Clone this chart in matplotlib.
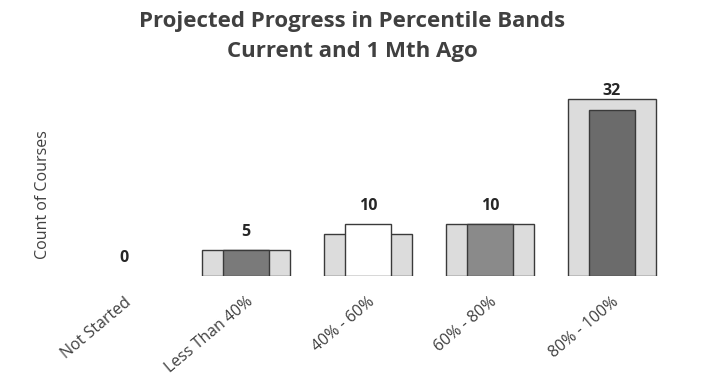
import matplotlib
matplotlib.use("Agg")
import matplotlib.pyplot as plt
import numpy as np

categories = ["Not Started", "Less Than 40%", "40% - 60%", "60% - 80%", "80% - 100%"]
current = [0, 5, 10, 10, 32]
month_ago = [0, 5, 8, 10, 34]
current_colors = ["#7a7a7a", "#7a7a7a", "#ffffff", "#8a8a8a", "#6b6b6b"]

plt.rcParams['font.family'] = ['Open Sans', 'DejaVu Sans']
text_color = "#404040"

fig = plt.figure(figsize=(7.01, 3.89), dpi=100)
ax = fig.add_axes([63/701, 1 - 276/389, 610/701, 187/389])

x = np.arange(len(categories))
lw_ago = [1.0 if v > 0 else 0 for v in month_ago]
lw_cur = [1.0 if v > 0 else 0 for v in current]
ax.bar(x, month_ago, width=0.72, color="#dcdcdc", edgecolor="#3a3a3a", linewidth=lw_ago, zorder=2)
ax.bar(x, current, width=0.37, color=current_colors, edgecolor="#3a3a3a", linewidth=lw_cur, zorder=3)

for xi, v in zip(x, current):
    ax.annotate(str(v), (xi, v), xytext=(0, 7.5), textcoords="offset points",
                ha="center", va="bottom", fontsize=11.5, fontweight="bold", color="#262626")

ax.set_xlim(-0.5, len(categories) - 0.5)
ax.set_ylim(0, 36)
ax.set_xticks(x)
ax.set_xticklabels(categories, rotation=40, ha="right", rotation_mode="anchor",
                   fontsize=11.5, color=text_color)
ax.tick_params(axis="x", length=0, pad=13)
ax.set_yticks([])
for s in ax.spines.values():
    s.set_visible(False)

ax.set_ylabel("Count of Courses", fontsize=11.5, color=text_color)
ax.yaxis.set_label_coords(-12/610, (276 - 195) / 187)

fig.text(352/701, 1 - 21/389, "Projected Progress in Percentile Bands", ha="center", va="center",
         fontsize=16, fontweight="bold", color=text_color)
fig.text(352/701, 1 - 52/389, "Current and 1 Mth Ago", ha="center", va="center",
         fontsize=16, fontweight="bold", color=text_color)

fig.savefig("out.png", dpi=100)
